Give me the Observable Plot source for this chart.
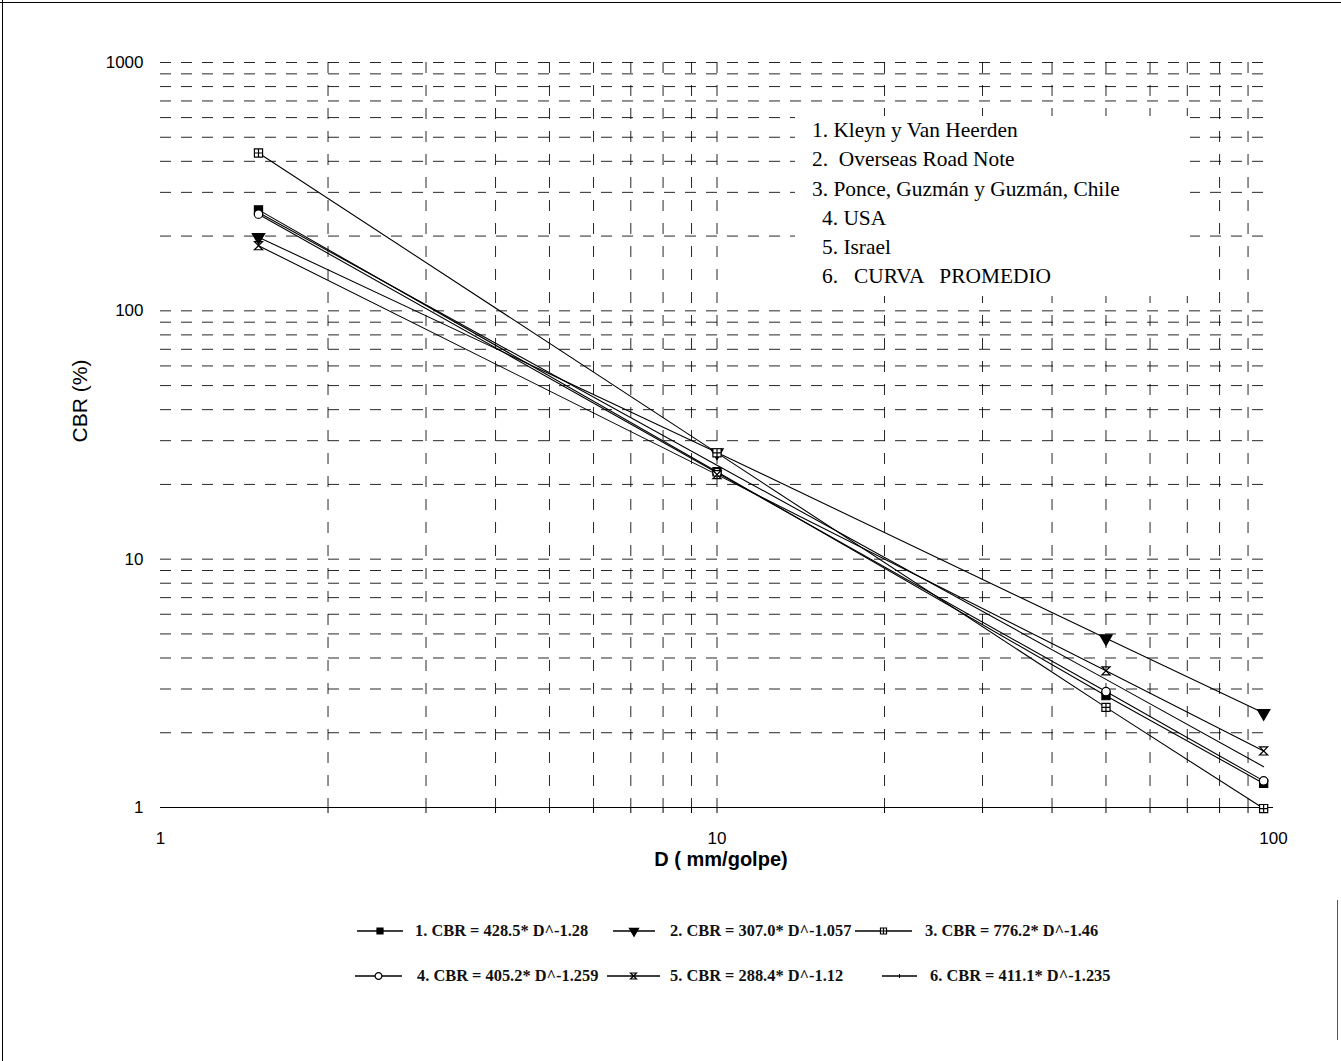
<!DOCTYPE html>
<html><head><meta charset="utf-8">
<script src="https://cdn.jsdelivr.net/npm/d3@7"></script>
<script src="https://cdn.jsdelivr.net/npm/@observablehq/plot@0.6"></script>
<style>
html,body{margin:0;padding:0;background:#fff;}
#wrap{position:relative;width:1341px;height:1061px;overflow:hidden;background:#fff;}
#chart{position:absolute;left:0;top:0;}
#note{position:absolute;left:795px;top:116px;width:395px;height:180px;background:#fff;
  font-family:"Liberation Serif","Times New Roman",serif;font-size:21.4px;color:#000;white-space:pre;line-height:29.3px;}
#note div{padding-left:17px;}
#note div.in{padding-left:27px;}
.legsw{position:absolute;}
.legtx{position:absolute;font-family:"Liberation Serif","Times New Roman",serif;
  font-size:16.4px;font-weight:bold;color:#111;white-space:pre;line-height:20px;}
#bt{position:absolute;left:0;top:2px;width:1341px;height:0;border-top:1.5px solid #000;}
#bl{position:absolute;left:2px;top:0;width:0;height:1061px;border-left:1.5px solid #000;}
#br{position:absolute;left:1337px;top:900px;width:0;height:140px;border-left:1px solid #555;}
</style></head>
<body><div id="wrap"><div id="chart"></div><div id="note"></div><div id="bt"></div><div id="bl"></div><div id="br"></div></div>
<script>
// ---- data ----
const dValues = [1.5, 10, 50, 96];
const seriesIds = ["1", "2", "3", "4", "5", "6"];
const s1 = [255, 22.5, 2.82, 1.25];   // Kleyn y Van Heerden
const s2 = [198, 26.9, 4.8, 2.4];     // Overseas Road Note
const s3 = [432, 26.8, 2.53, 0.99];   // Ponce, Guzmán y Guzmán
const s4 = [245, 22.3, 2.93, 1.28];   // USA
const s5 = [183, 21.9, 3.55, 1.69];   // Israel
const s6 = [249, 23.9, 3.28, 1.46];   // Curva promedio
const noteLines = ["1. Kleyn y Van Heerden", "2.  Overseas Road Note", "3. Ponce, Guzmán y Guzmán, Chile",
  "4. USA", "5. Israel", "6.   CURVA   PROMEDIO"];
const legendLabels = ["1. CBR = 428.5* D^-1.28", "2. CBR = 307.0* D^-1.057", "3. CBR = 776.2* D^-1.46",
  "4. CBR = 405.2* D^-1.259", "5. CBR = 288.4* D^-1.12", "6. CBR = 411.1* D^-1.235"];
const xTickLabels = [1, 10, 100];
const yTickLabels = [1, 10, 100, 1000];
const xLabel = "D ( mm/golpe)";
const yLabel = "CBR (%)";

const allSeries = [s1, s2, s3, s4, s5, s6];
const rows = [];
allSeries.forEach((vals, i) => vals.forEach((v, j) => rows.push({series: seriesIds[i], D: dValues[j], CBR: v})));

// minor log positions for gridlines
const xMinor = [2,3,4,5,6,7,8,9,10,20,30,40,50,60,70,80,90];
const yMinor = [];
for (const dec of [1, 10, 100]) for (let k = 1; k <= 9; k++) if (!(dec === 1 && k === 1)) yMinor.push(dec * k);
yMinor.push(1000);

// symbols
const symSquareCross = {draw(ctx, size){const s = Math.sqrt(size)/2;
  ctx.moveTo(-s,-s);ctx.lineTo(s,-s);ctx.lineTo(s,s);ctx.lineTo(-s,s);ctx.closePath();
  ctx.moveTo(0,-s);ctx.lineTo(0,s);ctx.moveTo(-s,0);ctx.lineTo(s,0);}};
const symHourglass = {draw(ctx, size){const s = Math.sqrt(size)/2;
  ctx.moveTo(-s,-s);ctx.lineTo(s,-s);ctx.lineTo(-s,s);ctx.lineTo(s,s);ctx.closePath();}};
const symStyles = {
  "1": {symbol: "square", fill: "#000", stroke: "#000", r: 4.6},
  "2": {symbol: "triangle", fill: "#000", stroke: "#000", r: 4.6, rotate: 180},
  "3": {symbol: symSquareCross, fill: "#fff", stroke: "#000", r: 4.6},
  "4": {symbol: "circle", fill: "#fff", stroke: "#000", r: 4.2},
  "5": {symbol: symHourglass, fill: "none", stroke: "#000", r: 4.6}
};

const dotMarks = Object.entries(symStyles).map(([id, st]) =>
  Plot.dot(rows.filter(r => r.series === id), {x: "D", y: "CBR", strokeWidth: 1.2, ...st}));

const chart = Plot.plot({
  width: 1341, height: 880,
  marginLeft: 160, marginRight: 68, marginTop: 62, marginBottom: 73,
  style: {fontFamily: "'Liberation Sans', Arial, sans-serif", fontSize: "17px", color: "#000", background: "transparent"},
  x: {type: "log", domain: [1, 100]},
  y: {type: "log", domain: [1, 1000]},
  marks: [
    Plot.gridX(xMinor, {stroke: "#000", strokeOpacity: 0.85, strokeDasharray: "11,12"}),
    Plot.gridY(yMinor, {stroke: "#000", strokeOpacity: 0.85, strokeDasharray: "11,10"}),
    Plot.ruleY([1], {stroke: "#000", strokeWidth: 1.2}),
    Plot.axisX(xMinor, {tickSize: 6, text: null, label: null}),
    Plot.axisX(xTickLabels, {tickSize: 0, tickPadding: 24, label: null, fontSize: 17, tickFormat: d => String(d)}),
    Plot.axisY(yTickLabels, {tickSize: 0, tickPadding: 17, label: null, fontSize: 17, tickFormat: d => String(d)}),
    Plot.line(rows, {x: "D", y: "CBR", z: "series", stroke: "#000", strokeWidth: 1.1}),
    ...dotMarks,
    Plot.text([xLabel], {text: d => d, frameAnchor: "bottom", textAnchor: "middle", dx: 4, dy: 58, fontSize: 20, fontWeight: "bold"}),
    Plot.text([yLabel], {text: d => d, frameAnchor: "left", textAnchor: "middle", dx: -80, dy: -34, rotate: -90, fontSize: 21})
  ]
});
document.getElementById("chart").appendChild(chart);

// annotation box
const note = d3.select("#note");
noteLines.forEach((t, i) => note.append("div").attr("class", i >= 3 ? "in" : null).text(t));

// bottom legend: [swatch start, swatch length, text start, row centre]
const legPos = [[357, 46, 415, 931], [613, 42, 670, 931], [855, 57, 925, 931],
                [355, 47, 417, 976], [607, 53, 670, 976], [882, 35, 930, 976]];
const legSyms = [d3.symbolSquare, d3.symbolTriangle, symSquareCross, d3.symbolCircle, symHourglass, null];
legendLabels.forEach((lab, i) => {
  const [sx, sw, tx, cy] = legPos[i];
  const svg = d3.select("#wrap").append("svg").attr("class", "legsw")
    .style("left", sx + "px").style("top", (cy - 10) + "px").attr("width", sw).attr("height", 20);
  svg.append("line").attr("x1", 0).attr("x2", sw).attr("y1", 10).attr("y2", 10).attr("stroke", "#000").attr("stroke-width", 1.3);
  const id = seriesIds[i];
  if (legSyms[i]) {
    const st = symStyles[id];
    const size = 3.4 * 3.4 * Math.PI;
    svg.append("path").attr("d", d3.symbol(legSyms[i], size)())
      .attr("transform", `translate(${sw / 2},10)${st.rotate ? " rotate(180)" : ""}`)
      .attr("fill", st.fill).attr("stroke", "#000").attr("stroke-width", 1.2);
  } else {
    svg.append("line").attr("x1", sw / 2).attr("x2", sw / 2).attr("y1", 8).attr("y2", 12).attr("stroke", "#000");
  }
  d3.select("#wrap").append("div").attr("class", "legtx")
    .style("left", tx + "px").style("top", (cy - 10) + "px").text(lab);
});
</script>
</body></html>
